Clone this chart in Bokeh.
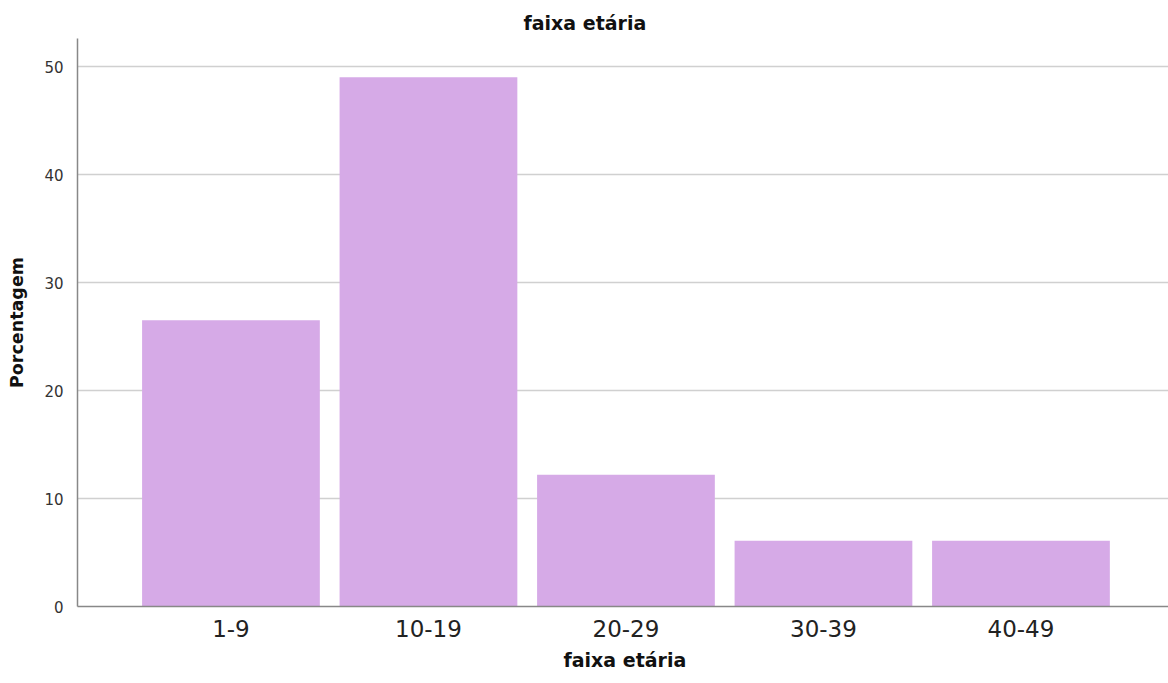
from bokeh.plotting import figure
from bokeh.models import Range1d, FixedTicker, Title
from bokeh.embed import file_html
from bokeh.resources import INLINE

categories = ["1-9", "10-19", "20-29", "30-39", "40-49"]
values = [26.5, 49.0, 12.2, 6.1, 6.1]
y_ticks = [0, 10, 20, 30, 40, 50]
title_text = "faixa etária"
x_title = "faixa etária"
y_title = "Porcentagem"

FONT = "DejaVu Sans"
xs = list(range(len(categories)))

p = figure(width=1168, height=683, output_backend="svg", toolbar_location=None,
           x_range=Range1d(-0.777, 4.747), y_range=Range1d(0, 52.6),
           min_border_left=77, min_border_right=0, min_border_top=38, min_border_bottom=77,
           title=None)
p.outline_line_color = None
p.background_fill_color = "white"
p.border_fill_color = "white"

p.vbar(x=xs, top=values, width=0.9, bottom=0, fill_color="#D6AAE7", line_color=None)

p.xgrid.grid_line_color = None
p.ygrid.grid_line_color = "#d0d0d0"
p.ygrid.grid_line_width = 1.5
p.ygrid.ticker = FixedTicker(ticks=y_ticks)

p.yaxis.ticker = FixedTicker(ticks=y_ticks)
p.yaxis.major_tick_line_color = None
p.yaxis.minor_tick_line_color = None
p.yaxis.axis_line_color = "#888888"
p.yaxis.axis_line_width = 1.5
p.yaxis.major_label_text_font = FONT
p.yaxis.major_label_text_font_size = "15px"
p.yaxis.major_label_text_color = "#333333"
p.yaxis.major_label_standoff = 8
p.yaxis.axis_label = y_title
p.yaxis.axis_label_text_font = FONT
p.yaxis.axis_label_text_font_style = "bold"
p.yaxis.axis_label_text_font_size = "17.5px"
p.yaxis.axis_label_text_color = "#111111"
p.yaxis.axis_label_standoff = 14

p.xaxis.ticker = FixedTicker(ticks=xs)
p.xaxis.major_label_overrides = {i: c for i, c in zip(xs, categories)}
p.xaxis.major_tick_line_color = None
p.xaxis.minor_tick_line_color = None
p.xaxis.axis_line_color = "#888888"
p.xaxis.axis_line_width = 1.5
p.xaxis.major_label_text_font = FONT
p.xaxis.major_label_text_font_size = "23px"
p.xaxis.major_label_text_color = "#222222"
p.xaxis.major_label_standoff = 7

p.add_layout(Title(text=x_title, align="left", offset=486, text_font=FONT,
                   text_font_style="bold", text_font_size="19px", text_color="#111111",
                   standoff=18, vertical_align="top"), "below")
p.add_layout(Title(text=title_text, align="left", offset=446, text_font=FONT,
                   text_font_style="bold", text_font_size="19px", text_color="#111111",
                   standoff=9), "above")

open("out.html", "w").write(file_html(p, INLINE))
